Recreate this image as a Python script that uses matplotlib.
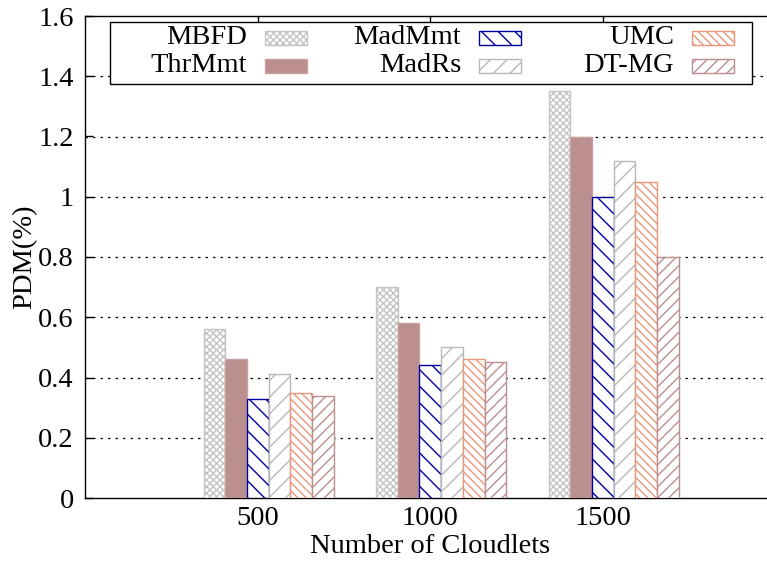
import numpy as np
import matplotlib
matplotlib.use('Agg')
from matplotlib import pyplot as plt
from matplotlib.patches import Rectangle

plt.rcParams['font.family'] = ['Liberation Serif', 'DejaVu Serif']
plt.rcParams['hatch.linewidth'] = 1.0

categories = ['500', '1000', '1500']
series_names = ['MBFD', 'ThrMmt', 'MadMmt', 'MadRs', 'UMC', 'DT-MG']
mbfd = [0.56, 0.70, 1.35]
thrmmt = [0.46, 0.58, 1.20]
madmmt = [0.33, 0.44, 1.00]
madrs = [0.41, 0.50, 1.12]
umc = [0.35, 0.46, 1.05]
dtmg = [0.34, 0.45, 0.80]
series_values = [mbfd, thrmmt, madmmt, madrs, umc, dtmg]

# style per series: face colour, edge/hatch colour, hatch
styles = [
    ('white', '#c4c4c4', 'xxxxx'),
    ('#bc8f8f', '#c9a0a0', None),
    ('white', '#0000a0', '\\\\'),
    ('white', '#b8b8b8', '//'),
    ('white', '#e9967a', '\\\\\\\\'),
    ('white', '#bc8f8f', '///'),
]
FS = 20.5

W, H = 767, 561
fig = plt.figure(figsize=(W / 100, H / 100), dpi=100)
ax = fig.add_axes([85 / W, 1 - 498 / H, 690 / W, 482 / H])

x = np.arange(1, len(categories) + 1)
bar_w = 0.126
start = -0.313
for k, vals in enumerate(series_values):
    face, edge, hatch = styles[k]
    ax.bar(x + start + k * bar_w, vals, width=bar_w, align='edge',
           facecolor=face, edgecolor=edge, hatch=hatch, linewidth=1.0, zorder=3)

ax.set_xlim(0, 4)
ax.set_ylim(0, 1.6)
ax.set_xticks(x)
ax.set_xticklabels(categories)
ax.set_yticks(np.arange(0, 1.61, 0.2))
ax.set_yticklabels(['0', '0.2', '0.4', '0.6', '0.8', '1', '1.2', '1.4', '1.6'])
ax.tick_params(axis='both', direction='in', labelsize=FS, length=6, width=1)
ax.tick_params(axis='x', top=True, bottom=False, pad=6)
ax.tick_params(axis='y', pad=8)
ax.spines['right'].set_visible(False)
for s in ['left', 'bottom', 'top']:
    ax.spines[s].set_linewidth(1.0)

for yv in np.arange(0.2, 1.5, 0.2):
    ax.axhline(yv, color='black', linestyle=(0, (2, 4)), linewidth=0.9, zorder=1)

ax.set_xlabel('Number of Cloudlets', fontsize=FS, labelpad=2)
ax.set_ylabel('PDM(%)', fontsize=FS, va='center')
ax.yaxis.set_label_coords(-0.087, 0.5)


# legend drawn in figure pixel coordinates, text right-aligned before sample
def fx(px):
    return px / W


def fy(py):
    return 1 - py / H


ax.add_patch(Rectangle((fx(110), fy(84)), fx(752) - fx(110), fy(22) - fy(84),
                       transform=fig.transFigure, facecolor='white', edgecolor='black',
                       linewidth=1.0, zorder=10, clip_on=False))
sample_left = [265, 479, 692]
row_y = [38, 66]
for k, name in enumerate(series_names):
    col, row = k // 2, k % 2
    face, edge, hatch = styles[k]
    sx, sy = sample_left[col], row_y[row]
    ax.add_patch(Rectangle((fx(sx), fy(sy + 7)), fx(42), 14 / H,
                           transform=fig.transFigure, facecolor=face, edgecolor=edge,
                           hatch=hatch, linewidth=1.0, zorder=11, clip_on=False))
    ax.text(fx(sx - 18), fy(sy), name, transform=fig.transFigure, ha='right',
            va='center', fontsize=FS, zorder=12)

fig.savefig('out.png', dpi=100)
